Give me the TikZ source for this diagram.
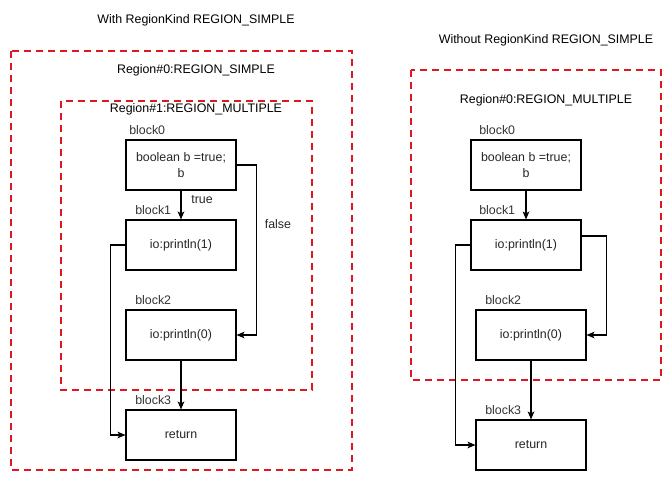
\documentclass[tikz,border=0pt]{standalone}
\usepackage{fontspec}
\setmainfont{Liberation Sans}
\usetikzlibrary{arrows.meta,positioning,calc}

\definecolor{regionred}{RGB}{222,24,32}

\tikzset{
  region/.style={draw=regionred,line width=1.5pt,dash pattern=on 5.25pt off 3.75pt},
  blockbox/.style={draw,line width=0.8pt,minimum width=82.5pt,minimum height=37.5pt,align=center,inner sep=0pt,text=black!85},
  blocklabel/.style={anchor=west,inner sep=0pt,text=black!80},
  flow/.style={line width=0.8pt,-{Stealth[length=6pt,width=5pt,inset=1.5pt]}},
  txt/.style={inner sep=0pt},
}

\begin{document}
\begin{tikzpicture}[x=0.75pt,y=-0.75pt,font=\fontsize{9.3}{12}\selectfont]

\useasboundingbox (0,0) rectangle (672,482);

%% with RegionKind REGION_SIMPLE
\node[txt] (titleA) at (196,20) {With RegionKind REGION\_SIMPLE};

\draw[region] (11,51) rectangle (352,470);
\node[txt] (regA0) at (196,70) {Region\#0:REGION\_SIMPLE};
\draw[region] (61,101) rectangle (312,390);
\node[txt] (regA1) at (196,109) {Region\#1:REGION\_MULTIPLE};

\node[blockbox] (A0) at (181,165) {boolean b =true;\\b};
\node[blockbox] (A1) at (181,245) {io:println(1)};
\node[blockbox] (A2) at (181,335) {io:println(0)};
\node[blockbox] (A3) at (181,435) {return};

\node[blocklabel] (labA0) at (129,130) {block0};
\node[blocklabel] (labA1) at (135,210) {block1};
\node[blocklabel] (labA2) at (135,300) {block2};
\node[blocklabel] (labA3) at (135,400) {block3};

\draw[flow] (A0) -- (A1);
\node[txt,text=black!85] (true) at (202,200) {true};
\draw[flow] (A0.east) -- ++(20,0) |- (A2.east);
\node[txt,text=black!85] (false) at (278,224) {false};
\draw[flow] (A1.west) -- ++(-15,0) |- (A3.west);
\draw[flow] (A2) -- (A3);

%% without RegionKind REGION_SIMPLE
\node[txt] (titleB) at (546,40) {Without RegionKind REGION\_SIMPLE};

\draw[region] (411,70) rectangle (661,380);
\node[txt] (regB0) at (546,100) {Region\#0:REGION\_MULTIPLE};

\node[blockbox] (B0) at (526,165) {boolean b =true;\\b};
\node[blockbox] (B1) at (526,245) {io:println(1)};
\node[blockbox] (B2) at (531,335) {io:println(0)};
\node[blockbox] (B3) at (531,445) {return};

\node[blocklabel] (labB0) at (479,130) {block0};
\node[blocklabel] (labB1) at (479,210) {block1};
\node[blocklabel] (labB2) at (485,300) {block2};
\node[blocklabel] (labB3) at (485,410) {block3};

\draw[flow] (B0) -- (B1);
\draw[flow] ($(B1.east)+(0,-9)$) -- ++(25,0) |- (B2.east);
\draw[flow] (B1.west) -- ++(-15,0) |- (B3.west);
\draw[flow] (B2) -- (B3);

\end{tikzpicture}
\end{document}
